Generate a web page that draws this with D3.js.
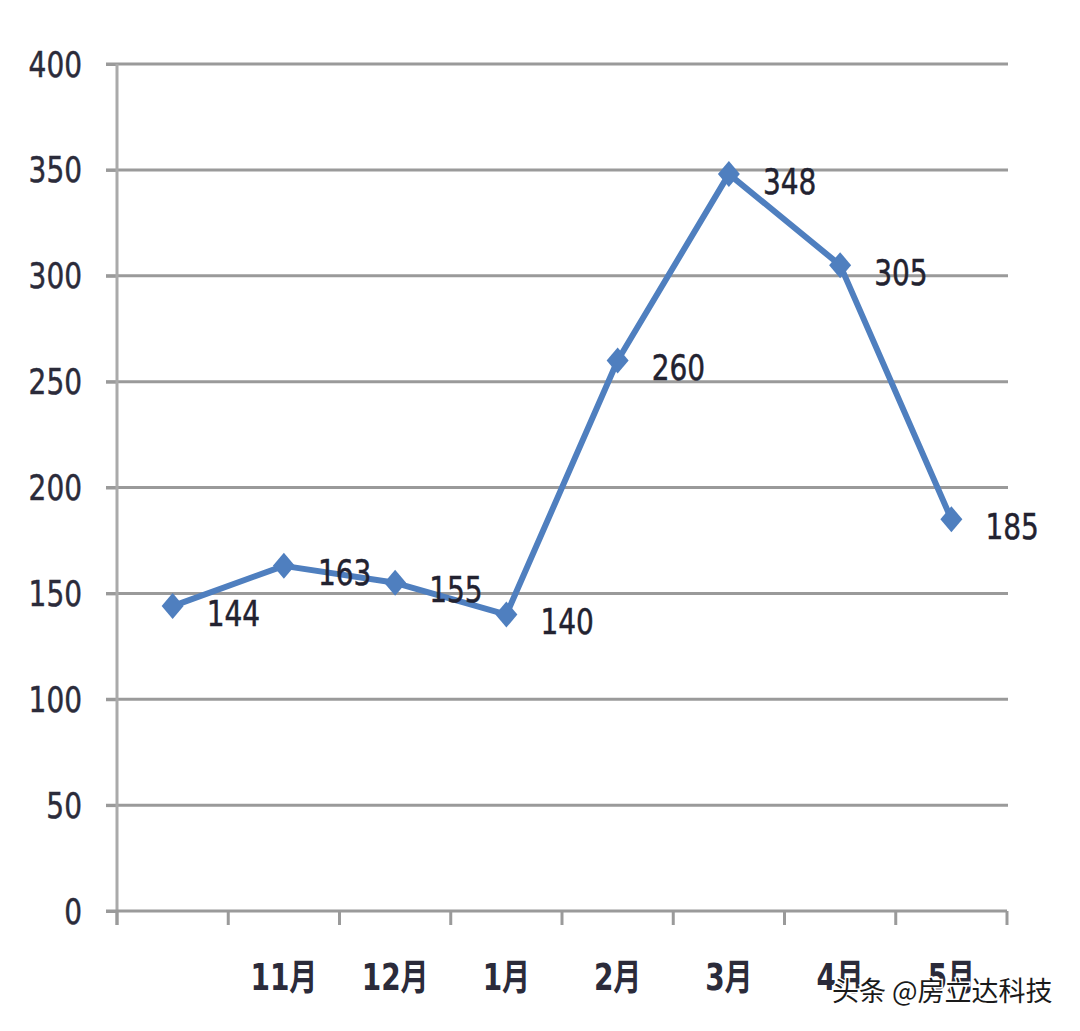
<!DOCTYPE html>
<html><head><meta charset="utf-8">
<script src="https://cdn.jsdelivr.net/npm/d3@7"></script>
<style>body{margin:0;background:#fff}svg{display:block}</style>
</head><body><svg id="c" width="1080" height="1031"></svg>
<script>
const categories = ["", "11月", "12月", "1月", "2月", "3月", "4月", "5月"];
const values = [144, 163, 155, 140, 260, 348, 305, 185];
const yTicks = [0, 50, 100, 150, 200, 250, 300, 350, 400];
const watermark = "头条 @房立达科技";

const svg = d3.select("#c");
const x0 = 117, x1 = 1007, yTop = 64, yBot = 911;
const idx = categories.map((d, i) => i);
const x = d3.scaleBand().domain(idx).range([x0, x1]);
const y = d3.scaleLinear().domain([0, 400]).range([yBot, yTop]);
const sy = 1.25;
const font = "'DejaVu Sans', Verdana, 'Noto Sans CJK SC', sans-serif";

// gridlines
svg.append("g").selectAll("line").data(yTicks.filter(d => d > 0)).join("line")
  .attr("x1", x0 - 11).attr("x2", x1 + 1)
  .attr("y1", d => y(d)).attr("y2", d => y(d))
  .attr("stroke", "#9a9a9a").attr("stroke-width", 3);

// y axis
const ya = svg.append("g").attr("transform", `translate(${x0},0)`)
  .call(d3.axisLeft(y).tickValues(yTicks).tickSize(11).tickFormat(""));
ya.select(".domain").remove();
ya.selectAll(".tick line").attr("stroke", "#9a9a9a").attr("stroke-width", 3);
svg.append("line").attr("x1", x0).attr("x2", x0).attr("y1", yTop).attr("y2", yBot + 14)
  .attr("stroke", "#aaaaaa").attr("stroke-width", 3);

svg.append("g").selectAll("text").data(yTicks).join("text")
  .attr("transform", d => `translate(82,${y(d)}) scale(1,${sy})`)
  .attr("text-anchor", "end").attr("dy", "0.36em")
  .attr("font-family", font).attr("font-size", 28).attr("fill", "#2b2b3a")
  .attr("stroke", "#2b2b3a").attr("stroke-width", 0.4)
  .text(d => d);

// x axis
svg.append("line").attr("x1", x0 - 11).attr("x2", x1).attr("y1", yBot).attr("y2", yBot)
  .attr("stroke", "#9a9a9a").attr("stroke-width", 3);
const xa = svg.append("g").attr("transform", `translate(0,${yBot})`)
  .call(d3.axisBottom(x).tickSize(0).tickFormat(""));
xa.select(".domain").remove();
const edges = idx.map(i => x(i)).concat([x1]);
svg.append("g").selectAll("line").data(edges).join("line")
  .attr("x1", d => d).attr("x2", d => d).attr("y1", yBot).attr("y2", yBot + 14)
  .attr("stroke", "#9a9a9a").attr("stroke-width", 3);

svg.append("g").selectAll("text").data(idx).join("text")
  .attr("transform", i => `translate(${x(i) + x.bandwidth() / 2},977) scale(1,1.3)`)
  .attr("text-anchor", "middle").attr("dy", "0.36em")
  .attr("font-family", font).attr("font-size", 28).attr("font-weight", "bold").attr("fill", "#2b2b3a")
  .text(i => categories[i]);

// line
const cx = i => x(i) + x.bandwidth() / 2;
svg.append("path").datum(idx)
  .attr("d", d3.line().x(cx).y(i => y(values[i])))
  .attr("fill", "none").attr("stroke", "#4f7fbf").attr("stroke-width", 6)
  .attr("stroke-linejoin", "round");

svg.append("g").selectAll("path").data(idx).join("path")
  .attr("transform", i => `translate(${cx(i)},${y(values[i])})`)
  .attr("d", "M0,-13L11,0L0,13L-11,0Z")
  .attr("fill", "#4f7fbf");

svg.append("g").selectAll("text").data(idx).join("text")
  .attr("transform", i => `translate(${cx(i) + 34},${y(values[i]) + 7}) scale(1,${sy})`)
  .attr("dy", "0.36em")
  .attr("font-family", font).attr("font-size", 28).attr("fill", "#222230")
  .attr("stroke", "#222230").attr("stroke-width", 0.4)
  .text(i => values[i]);

// watermark
svg.append("text").attr("x", 832).attr("y", 1001)
  .attr("font-family", "'Noto Sans CJK SC', sans-serif").attr("font-size", 27)
  .attr("fill", "#1a1a1a").attr("stroke", "#ffffff").attr("stroke-width", 3)
  .attr("paint-order", "stroke")
  .text(watermark);
</script></body></html>
